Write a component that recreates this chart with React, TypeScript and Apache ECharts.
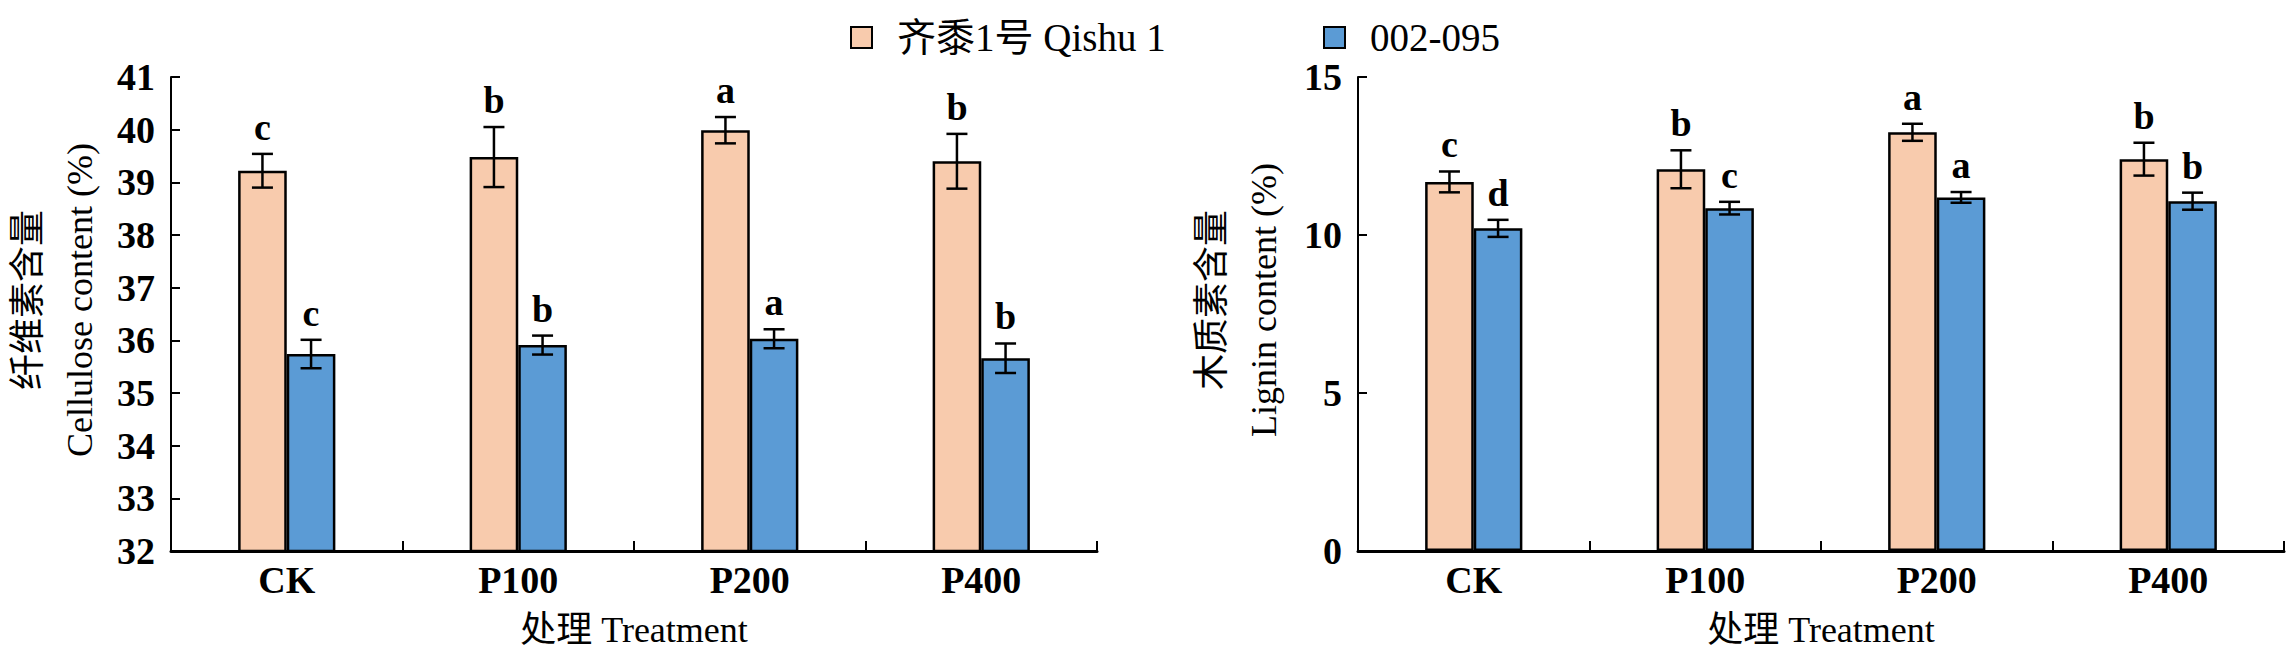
import React, { useEffect, useRef } from "react";
import * as echarts from "echarts";

const FONT = "'Liberation Serif', 'Noto Sans CJK SC', serif";

const categories = ["CK", "P100", "P200", "P400"];
const seriesNames = ["齐黍1号 Qishu 1", "002-095"];
const seriesColors = ["#F8CBAD", "#5B9BD5"];

// Cellulose content (%)
const celluloseQishu = [39.22, 39.48, 39.99, 39.4];
const celluloseQishuErr = [0.32, 0.57, 0.25, 0.52];
const celluloseQishuSig = ["c", "b", "a", "b"];
const cellulose002 = [35.74, 35.91, 36.03, 35.66];
const cellulose002Err = [0.27, 0.18, 0.18, 0.28];
const cellulose002Sig = ["c", "b", "a", "b"];

// Lignin content (%)
const ligninQishu = [11.68, 12.08, 13.25, 12.4];
const ligninQishuErr = [0.33, 0.6, 0.27, 0.52];
const ligninQishuSig = ["c", "b", "a", "b"];
const lignin002 = [10.21, 10.85, 11.19, 11.07];
const lignin002Err = [0.27, 0.2, 0.17, 0.27];
const lignin002Sig = ["d", "c", "a", "b"];

const yTicksLeft = { min: 32, max: 41, interval: 1 };
const yTicksRight = { min: 0, max: 15, interval: 5 };

const BAR_FRAC = 0.21;

function barSeries(name: string, color: string, data: number[], axis: number) {
  return {
    type: "bar",
    name,
    xAxisIndex: axis,
    yAxisIndex: axis,
    data,
    barWidth: BAR_FRAC * 100 + "%",
    barGap: "0%",
    itemStyle: { color, borderColor: "#000", borderWidth: 2.5 },
    z: 2,
  };
}

function errSeries(vals: number[], errs: number[], sigs: string[], side: number, axis: number) {
  return {
    type: "custom",
    name: "err" + axis + side,
    xAxisIndex: axis,
    yAxisIndex: axis,
    z: 5,
    data: vals.map((v, k) => [k, v, errs[k]]),
    renderItem: (params: any, api: any) => {
      const i = api.value(0);
      const v = api.value(1);
      const e = api.value(2);
      const top = api.coord([i, v + e]);
      const bot = api.coord([i, v - e]);
      const band = api.size([1, 0])[0];
      const x = top[0] + (side * band * BAR_FRAC) / 2;
      const cap = 10.5;
      const ls = { stroke: "#000", lineWidth: 2.5 };
      return {
        type: "group",
        children: [
          { type: "line", shape: { x1: x, y1: top[1], x2: x, y2: bot[1] }, style: ls },
          { type: "line", shape: { x1: x - cap, y1: top[1], x2: x + cap, y2: top[1] }, style: ls },
          { type: "line", shape: { x1: x - cap, y1: bot[1], x2: x + cap, y2: bot[1] }, style: ls },
          {
            type: "text",
            x,
            y: top[1] - 8,
            style: {
              text: sigs[params.dataIndex],
              fontSize: 38,
              fontWeight: "bold",
              fontFamily: FONT,
              fill: "#000",
              align: "center",
              verticalAlign: "bottom",
              textAlign: "center",
              textVerticalAlign: "bottom",
            },
          },
        ],
      };
    },
  };
}

function xAxisOf(grid: number) {
  return {
    type: "category",
    gridIndex: grid,
    data: categories,
    axisLine: { show: true, lineStyle: { color: "#000", width: 3 } },
    axisTick: { show: true, inside: true, length: 10, alignWithLabel: false, lineStyle: { color: "#000", width: 2 } },
    axisLabel: { color: "#000", fontSize: 38, fontWeight: "bold", fontFamily: FONT, margin: 10 },
    splitLine: { show: false },
    name: "处理 Treatment",
    nameLocation: "middle",
    nameGap: 61,
    nameTextStyle: { color: "#000", fontSize: 36, fontFamily: FONT },
  };
}

function yAxisOf(grid: number, ticks: { min: number; max: number; interval: number }, name: string, gap: number) {
  return {
    type: "value",
    gridIndex: grid,
    min: ticks.min,
    max: ticks.max,
    interval: ticks.interval,
    axisLine: { show: true, lineStyle: { color: "#000", width: 2 } },
    axisTick: { show: true, inside: true, length: 9, lineStyle: { color: "#000", width: 2 } },
    axisLabel: { color: "#000", fontSize: 38, fontWeight: "bold", fontFamily: FONT, margin: 16 },
    splitLine: { show: false },
    name,
    nameLocation: "middle",
    nameRotate: 90,
    nameGap: gap,
    nameTextStyle: { color: "#000", fontSize: 36, fontFamily: FONT, lineHeight: 52, padding: [0, 0, 0, 28] },
  };
}

function legendOf(name: string, left: number) {
  return {
    data: [name],
    left,
    top: 13,
    itemWidth: 21,
    itemHeight: 21,
    icon: "rect",
    itemStyle: { borderColor: "#000", borderWidth: 2 },
    textStyle: { color: "#000", fontSize: 39, fontFamily: FONT, padding: [0, 0, 10, 20] },
  };
}

export default function App() {
  const ref = useRef<HTMLDivElement>(null);
  useEffect(() => {
    if (!ref.current) return;
    const chart = echarts.init(ref.current, undefined, { renderer: "svg" });
    chart.setOption({
      animation: false,
      backgroundColor: "#fff",
      legend: [legendOf(seriesNames[0], 845), legendOf(seriesNames[1], 1318)],
      grid: [
        { left: 171, top: 77, width: 926, height: 474 },
        { left: 1358, top: 77, width: 926, height: 474 },
      ],
      xAxis: [xAxisOf(0), xAxisOf(1)],
      yAxis: [
        yAxisOf(0, yTicksLeft, "纤维素含量\nCellulose content (%)", 65),
        yAxisOf(1, yTicksRight, "木质素含量\nLignin content (%)", 68),
      ],
      series: [
        barSeries(seriesNames[0], seriesColors[0], celluloseQishu, 0),
        barSeries(seriesNames[1], seriesColors[1], cellulose002, 0),
        errSeries(celluloseQishu, celluloseQishuErr, celluloseQishuSig, -1, 0),
        errSeries(cellulose002, cellulose002Err, cellulose002Sig, 1, 0),
        barSeries(seriesNames[0], seriesColors[0], ligninQishu, 1),
        barSeries(seriesNames[1], seriesColors[1], lignin002, 1),
        errSeries(ligninQishu, ligninQishuErr, ligninQishuSig, -1, 1),
        errSeries(lignin002, lignin002Err, lignin002Sig, 1, 1),
      ],
    });
    return () => chart.dispose();
  }, []);
  return (
    <div
      ref={ref}
      style={{ position: "fixed", left: 0, top: 0, width: 2294, height: 667, background: "#fff" }}
    />
  );
}
